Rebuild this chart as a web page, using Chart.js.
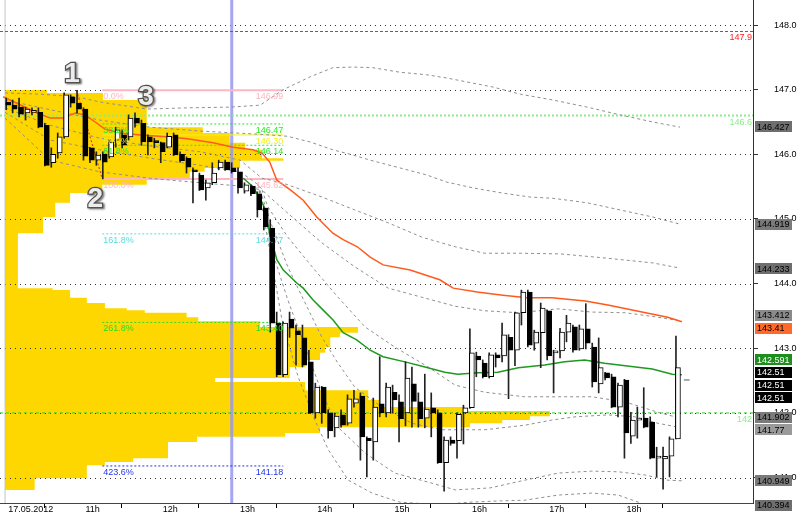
<!DOCTYPE html>
<html>
<head>
<meta charset="utf-8">
<script src="https://cdn.jsdelivr.net/npm/chart.js@4.4.1/dist/chart.umd.min.js"></script>
<style>
  html, body { margin: 0; padding: 0; background: #fff; }
  #wrap { width: 800px; height: 515px; position: relative; }
</style>
</head>
<body>
<div id="wrap"><canvas id="chart"></canvas></div>
<script>
// 5-minute candles, index 0 = 10:00 on 17.05.2012
const open  = [146.81,146.76,146.73,146.64,146.65,146.65,146.45,145.87,146.02,146.27,146.89,146.79,146.70,146.10,145.91,146.00,145.96,146.22,146.30,146.27,
               146.56,146.48,146.27,146.19,146.18,146.11,146.30,146.00,145.94,145.74,145.68,145.48,145.56,145.79,145.88,145.79,145.73,145.43,145.51,145.39,
               145.17,144.86,143.39,142.59,143.45,143.27,143.16,142.79,142.00,142.40,142.00,141.77,141.97,141.84,142.15,142.26,141.61,141.55,142.14,142.00,
               142.32,142.17,142.00,142.45,142.17,141.92,142.08,142.00,141.23,141.58,141.57,142.00,142.08,142.88,142.77,142.56,142.90,142.88,143.17,142.97,
               143.55,143.87,143.08,143.24,143.58,142.93,142.96,143.25,143.33,142.99,143.30,143.02,142.45,142.62,142.56,142.09,142.51,141.64,141.89,141.92,
               141.86,141.30,141.29,141.33,141.60];
const high  = [146.87,146.84,146.87,146.73,146.72,146.72,146.48,146.10,146.33,146.95,146.92,146.99,146.72,146.11,146.04,146.04,146.22,146.42,146.38,146.61,
               146.64,146.53,146.30,146.25,146.19,146.33,146.33,146.04,145.96,145.79,145.71,145.60,145.87,145.91,145.91,145.87,145.79,145.56,145.53,145.42,
               145.19,144.98,143.56,143.41,143.56,143.36,143.36,142.97,142.46,142.41,142.05,142.00,142.05,142.28,142.35,142.31,141.63,142.23,142.87,142.46,
               142.43,142.28,142.79,142.71,142.31,142.60,142.31,142.05,141.63,141.63,142.00,142.12,143.30,142.94,142.82,142.93,142.93,143.39,143.21,143.56,
               143.90,143.90,143.28,143.70,143.59,142.97,143.31,143.51,143.36,143.36,143.69,143.08,143.16,142.63,142.60,142.46,142.52,142.01,142.09,142.39,
               141.94,141.47,141.47,141.63,143.19];
const low   = [146.69,146.64,146.58,146.53,146.61,146.41,145.82,145.80,145.94,146.25,146.73,146.64,145.91,145.87,145.83,145.62,145.94,146.11,146.10,146.22,
               146.42,146.14,145.99,146.10,145.87,146.10,145.98,145.88,145.71,145.25,145.44,145.29,145.53,145.76,145.75,145.71,145.40,145.40,145.36,145.03,
               144.83,143.25,142.56,142.56,143.17,142.74,142.71,141.99,141.92,141.84,141.61,141.63,141.78,141.81,142.09,141.27,141.01,141.27,141.94,141.94,
               142.00,141.55,141.80,141.78,141.78,141.77,141.63,141.22,140.79,141.50,141.30,141.52,142.07,142.56,142.54,142.54,142.71,142.79,142.22,142.73,
               143.36,143.02,142.97,142.70,142.82,142.31,142.85,143.10,142.94,142.97,142.99,142.40,142.31,142.51,142.08,141.94,141.30,141.53,141.61,141.77,
               141.29,141.01,140.82,141.01,141.60];
const close = [146.76,146.70,146.62,146.70,146.66,146.42,145.83,146.00,146.27,146.92,146.79,146.70,145.97,145.91,145.99,145.88,146.19,146.38,146.14,146.56,
               146.48,146.19,146.19,146.18,146.04,146.28,145.99,145.90,145.80,145.73,145.45,145.56,145.71,145.88,145.76,145.73,145.48,145.53,145.39,145.14,
               144.88,143.39,142.59,143.39,143.31,143.21,142.74,142.00,142.40,142.00,141.72,141.95,141.81,142.22,142.22,141.63,141.57,142.09,142.00,142.40,
               142.20,141.91,142.54,142.18,141.91,142.06,142.00,141.23,141.58,141.53,141.98,142.08,142.93,142.82,142.56,142.90,142.85,143.21,142.97,143.55,
               143.87,143.05,143.25,143.62,142.88,142.96,143.25,143.39,142.97,143.30,143.08,142.48,142.70,142.54,142.09,142.43,141.69,141.89,141.92,141.78,
               141.30,141.32,141.33,141.60,142.70];

const hourIdx    = [0, 12, 24, 36, 48, 60, 72, 84, 96];
const hourLabels = ['17.05.2012', '11h', '12h', '13h', '14h', '15h', '16h', '17h', '18h'];
const priceTicks = [141, 142, 143, 144, 145, 146, 147, 148];
const xMin = -0.885, xMax = 116.04, yMin = 140.607, yMax = 148.387;

// volume profile: band edges (price) and how far each band reaches (candle index)
const profEdges = [147.00,146.95,146.84,146.42,146.33,146.18,146.07,145.94,145.90,145.79,145.73,145.63,145.53,145.40,145.25,145.03,144.78,143.93,143.90,143.78,
                   143.70,143.62,143.59,143.55,143.48,143.42,143.33,143.24,143.17,143.02,142.93,142.82,142.71,142.54,142.48,142.35,142.20,142.09,142.03,141.95,
                   141.89,141.84,141.78,141.69,141.63,141.55,141.30,141.24,141.19,140.99,140.81];
const profReach = [6.4,15.1,21.9,30.6,34.8,37.2,39.8,43.1,36.4,30.9,28.6,21.9,15.0,10.0,7.7,5.8,1.9,7.3,10.0,12.6,
                   15.4,18.8,21.6,28.1,29.9,39.5,54.7,51.9,50.4,49.6,48.8,46.5,44.1,32.5,46.5,56.3,58.1,71.3,84.5,81.4,
                   77.1,72.1,48.8,43.4,29.7,25.2,19.8,15.4,12.6,4.5];
const profBase = -0.1;

// moving averages [index, price]
const emaLine = [[-0.4,146.89],[4.9,146.64],[6.9,146.56],[8.9,146.56],[10.8,146.64],[12.3,146.61],[13.9,146.50],[15.4,146.39],[17.8,146.33],[20.9,146.30],
                 [25.1,146.27],[28.2,146.24],[32.2,146.18],[35.3,146.11],[38.4,146.07],[39.8,146.02],[41.0,145.88],[42.1,145.60],[44.2,145.45],[46.2,145.29],
                 [48.3,145.03],[50.8,144.78],[52.4,144.68],[54.6,144.57],[56.6,144.41],[58.6,144.29],[62.8,144.21],[67.4,144.06],[69.5,143.93],[73.2,143.87],
                 [77.2,143.82],[81.0,143.78],[84.8,143.78],[90.0,143.73],[93.5,143.67],[98.8,143.56],[102.8,143.48],[105.0,143.41]];
const vwapLine = [[36.9,145.63],[38.4,145.50],[40.0,145.22],[41.0,144.78],[42.1,144.37],[43.1,144.21],[45.2,144.01],[46.2,143.93],[47.7,143.75],[49.3,143.59],
                  [50.8,143.44],[52.4,143.24],[54.5,143.13],[56.6,142.97],[58.6,142.87],[62.0,142.79],[65.1,142.71],[68.2,142.63],[70.2,142.60],[73.3,142.62],
                  [76.4,142.63],[79.6,142.70],[83.7,142.74],[86.8,142.79],[89.9,142.82],[93.0,142.77],[96.2,142.73],[100.4,142.68],[103.5,142.60],[105.0,142.59]];

// grey dashed bands
const bandU1 = [[-0.1,146.95],[5.3,146.93],[11.1,146.89],[14.6,146.81],[21.9,146.70],[28.6,146.72],[34.8,146.73],[39.5,146.76],[43.1,147.00],[47.3,147.20],
                [50.8,147.34],[53.9,147.35],[57.0,147.34],[61.2,147.27],[65.4,147.23],[68.5,147.18],[71.6,147.12],[75.7,147.04],[79.9,146.93],[85.0,146.84],
                [90.3,146.73],[95.4,146.61],[100.5,146.50],[104.7,146.42]];
const bandU2 = [[-0.1,146.84],[6.9,146.69],[14.6,146.53],[22.4,146.42],[30.2,146.36],[39.5,146.31],[43.7,146.28],[47.3,146.19],[50.8,146.07],[53.9,145.99],
                [56.6,145.91],[61.2,145.79],[65.4,145.68],[68.5,145.57],[72.6,145.48],[77.2,145.40],[81.4,145.34],[85.0,145.32],[90.3,145.25],[95.4,145.14],
                [100.5,145.03],[104.7,144.92]];
const bandU3 = [[-0.1,146.72],[6.9,146.45],[14.6,146.25],[22.4,146.13],[30.2,146.04],[36.4,145.91],[39.8,145.63],[42.9,145.56],[49.1,145.34],[54.2,145.14],
                [59.4,144.94],[64.6,144.72],[69.8,144.57],[74.4,144.47],[79.9,144.47],[86.1,144.46],[92.7,144.40],[100.5,144.32],[104.7,144.24]];
const bandM  = [[-0.1,146.65],[6.9,146.22],[14.6,146.07],[22.4,145.94],[30.2,145.83],[36.4,145.73],[39.2,145.53],[40.3,145.40],[43.8,145.09],[49.1,144.63],
                [54.2,144.26],[59.4,143.93],[64.6,143.79],[69.8,143.65],[74.4,143.58],[79.6,143.55],[85.8,143.61],[91.0,143.56],[96.2,143.55],[101.3,143.48],[105.0,143.42]];
const bandL1 = [[-0.1,146.56],[6.9,145.91],[14.6,145.73],[22.4,145.63],[30.2,145.56],[36.4,145.51],[39.8,145.45],[40.7,145.19],[43.8,144.72],[48.0,144.21],
                [51.6,143.79],[55.8,143.33],[60.4,143.02],[65.6,142.71],[69.8,142.43],[74.4,142.32],[80.6,142.25],[85.8,142.25],[91.0,142.25],[96.2,142.17],
                [101.3,142.01],[104.7,141.92]];
const bandL2 = [[39.2,145.53],[41.4,144.88],[43.8,144.26],[46.5,143.70],[49.1,143.17],[51.6,142.77],[54.2,142.40],[58.4,142.09],[63.1,141.84],[67.7,141.74],
                [74.4,141.74],[80.6,141.81],[84.8,141.89],[88.4,141.94],[93.5,141.97],[97.7,141.94],[101.3,141.84],[104.4,141.78]];
const bandL3 = [[39.2,145.53],[41.8,144.37],[43.8,143.75],[46.5,143.02],[49.1,142.31],[51.6,141.78],[55.8,141.38],[60.4,141.07],[65.6,140.93],[69.8,140.81],
                [75.2,140.84],[80.6,140.96],[85.8,141.07],[91.0,141.10],[95.1,141.09],[99.3,141.04],[102.8,140.96],[105.0,140.95]];
const bandL4 = [[39.2,145.53],[42.9,143.44],[45.4,142.56],[48.0,141.89],[50.1,141.43],[53.2,140.96],[56.9,140.76],[61.2,140.62],[67.4,140.58],[72.1,140.62],
                [76.8,140.64],[80.6,140.65],[85.8,140.73],[91.0,140.76],[95.1,140.73],[98.5,140.61],[105.0,140.39]];

// fibonacci from swing high (1) to swing low (2)
const fibPct   = ['0.0%', '38.2%', '50.0%', '61.8%', '100.0%', '161.8%', '261.8%', '423.6%'];
const fibPrice = [146.99, 146.47, 146.30, 146.14, 145.62, 144.77, 143.40, 141.18];
const fibFrom = 15, fibTo = 43.1;
const fibAnchor = [[11, 146.99], [15, 145.62]];

// horizontal levels
const levelPrice = [147.9, 146.6, 142.0];
const levelText  = ['147.9', '146.6', '142'];

const cursorIdx = 35.1;
const sessionIdx = -0.1;

const markText  = ['1', '2', '3'];
const markIdx   = [10.3, 13.9, 21.8];
const markPrice = [147.24, 145.31, 146.89];

const tagValue = [146.427, 144.919, 144.233, 143.412, 143.41, 142.591, 142.51, 142.51, 142.51, 141.902, 141.77, 140.949, 140.394];
const tagBg = ['#6e6e6e','#7a7a7a','#6e6e6e','#8a8a8a','#ff6a2a','#1e8c1e','#000','#000','#000','#7a7a7a','#9a9a9a','#7a7a7a','#6e6e6e'];
const tagFg = ['#000','#000','#000','#000','#000','#fff','#fff','#fff','#fff','#000','#000','#000','#000'];

const fibColor = ['#ffb6c1','#22ee22','#f0f020','#22ee22','#ffb6c1','#55dddd','#22dd22','#2233ee'];
const fibWidth = [2, 1, 1, 1, 2, 1, 1, 1];
const fibDash  = [[], [2, 2], [], [2, 2], [], [2, 2], [2, 2], [2, 2]];
const levelColor = ['#ff2020', '#88ee88', '#33cc33'];
const levelDash  = [[3, 2], [2, 2], [3, 3]];
const levelWidth = [1, 2, 1];

const FONT = '"Liberation Sans", Arial, sans-serif';

const pts = arr => arr.map(([x, y]) => ({x, y}));
function lineDs(data, color, width, dash, order) {
  return { type: 'line', data: pts(data), borderColor: color, borderWidth: width, borderDash: dash,
           pointRadius: 0, fill: false, tension: 0, order: order, xAxisID: 'x', yAxisID: 'y' };
}

const profilePts = [];
profReach.forEach((r, k) => {
  profilePts.push({x: r, y: profEdges[k]}, {x: r, y: profEdges[k + 1]});
});

const datasets = [];
datasets.push({
  type: 'line', label: 'profile', indexAxis: 'y', data: profilePts,
  xAxisID: 'xp', yAxisID: 'y',
  borderColor: 'rgba(0,0,0,0)', borderWidth: 0, pointRadius: 0, tension: 0,
  backgroundColor: '#ffd700', fill: {value: profBase}, order: 100
});
datasets.push(lineDs([[sessionIdx, yMin - 1], [sessionIdx, yMax + 1]], '#c4c4c4', 1, [], 90));
datasets.push(lineDs([[cursorIdx, yMin - 1], [cursorIdx, yMax + 1]], 'rgba(150,150,240,0.85)', 3, [], 90));
levelPrice.forEach((p, k) => datasets.push(lineDs([[xMin, p], [xMax, p]], levelColor[k], levelWidth[k], levelDash[k], 80)));
fibPrice.forEach((p, k) => datasets.push(lineDs([[fibFrom, p], [fibTo, p]], fibColor[k], fibWidth[k], fibDash[k], 70)));
datasets.push(lineDs(fibAnchor, '#dd2222', 1, [2, 2], 70));
[bandU1, bandU2, bandU3, bandM, bandL1, bandL2, bandL3, bandL4].forEach(b =>
  datasets.push(lineDs(b, '#8f8f8f', 1, [3, 3], 60)));
datasets.push(lineDs(emaLine, '#ff5a1e', 1.5, [], 50));
datasets.push(lineDs(vwapLine, '#1e9a1e', 1.5, [], 50));
datasets.push(lineDs([[105.3, 142.51], [106.2, 142.51]], '#555', 1, [], 50));

datasets.push({
  type: 'bar', label: 'wicks', xAxisID: 'x', yAxisID: 'y', stack: 'c',
  data: low.map((l, i) => ({x: i, y: [l, high[i]]})),
  backgroundColor: '#222', borderWidth: 0, barThickness: 1, order: 5
});
datasets.push({
  type: 'bar', label: 'bodies', xAxisID: 'x', yAxisID: 'y', stack: 'c',
  data: open.map((o, i) => ({x: i, y: [o, close[i]]})),
  backgroundColor: open.map((o, i) => close[i] >= o ? '#fff' : '#000'),
  borderColor: '#000', borderWidth: 1, borderSkipped: false, barThickness: 5, minBarLength: 2, order: 4
});

const overlay = {
  id: 'overlay',
  afterDatasetDraw(chart, args) {
    if (args.meta.controller.getDataset().label !== 'profile') return;
    const {ctx, chartArea: a, scales: {y}} = chart;
    ctx.save();
    ctx.strokeStyle = '#333';
    ctx.lineWidth = 1;
    ctx.setLineDash([1, 4]);
    priceTicks.forEach(p => {
      const py = Math.round(y.getPixelForValue(p)) + 0.5;
      ctx.beginPath(); ctx.moveTo(a.left, py); ctx.lineTo(a.right, py); ctx.stroke();
    });
    ctx.restore();
  },
  afterDraw(chart) {
    const {ctx, chartArea: a, scales: {x, y}} = chart;
    ctx.save();
    ctx.font = '9px ' + FONT;
    ctx.textBaseline = 'top';
    // fib labels
    fibPrice.forEach((p, k) => {
      const py = y.getPixelForValue(p);
      ctx.fillStyle = fibColor[k];
      ctx.textAlign = 'left';
      ctx.fillText(fibPct[k], x.getPixelForValue(fibFrom) + 1, py + 2);
      ctx.textAlign = 'right';
      ctx.fillText(p.toFixed(2), x.getPixelForValue(fibTo), py + 2);
    });
    // level labels
    levelPrice.forEach((p, k) => {
      ctx.fillStyle = k === 0 ? levelColor[k] : '#88ee88';
      ctx.textAlign = 'right';
      ctx.fillText(levelText[k], a.right - 1, y.getPixelForValue(p) + 2);
    });
    // swing marks
    ctx.font = 'bold 28px ' + FONT;
    ctx.textAlign = 'center';
    ctx.textBaseline = 'middle';
    markText.forEach((t, k) => {
      const px = x.getPixelForValue(markIdx[k]), py = y.getPixelForValue(markPrice[k]);
      ctx.shadowColor = 'rgba(0,0,0,0.55)';
      ctx.shadowOffsetX = 1.5; ctx.shadowOffsetY = 1.5; ctx.shadowBlur = 2;
      ctx.lineWidth = 2.5; ctx.strokeStyle = '#505050';
      ctx.strokeText(t, px, py);
      ctx.shadowColor = 'rgba(0,0,0,0)';
      ctx.fillStyle = '#ececec';
      ctx.fillText(t, px, py);
    });
    // price tags on the axis, pushed apart where they collide
    const gap = 12.7, boxH = 11;
    const idx = tagValue.map((v, k) => k).sort((p, q) =>
      (y.getPixelForValue(tagValue[p]) - y.getPixelForValue(tagValue[q])) || (p - q));
    const pos = idx.map(k => y.getPixelForValue(tagValue[k]));
    for (let it = 0; it < 300; it++) {
      for (let j = 0; j < pos.length - 1; j++) {
        const d = pos[j + 1] - pos[j];
        if (d < gap) { const s = (gap - d) / 2; pos[j] -= s; pos[j + 1] += s; }
      }
    }
    for (let j = pos.length - 1; j >= 0; j--) {
      const lim = j === pos.length - 1 ? a.bottom + 2 : pos[j + 1] - gap;
      if (pos[j] > lim) pos[j] = lim;
    }
    ctx.font = '9px ' + FONT;
    ctx.textAlign = 'left';
    ctx.textBaseline = 'middle';
    idx.forEach((k, j) => {
      const cy = pos[j];
      ctx.fillStyle = tagBg[k];
      ctx.fillRect(a.right + 2, Math.round(cy - boxH / 2), 37, boxH);
      ctx.fillStyle = tagFg[k];
      ctx.fillText(String(tagValue[k]), a.right + 4, cy + 0.5);
    });
    ctx.restore();
  }
};

new Chart(document.getElementById('chart'), {
  type: 'line',
  data: { datasets },
  options: {
    responsive: true,
    maintainAspectRatio: false,
    animation: false,
    devicePixelRatio: 1,
    events: [],
    layout: { padding: 0, autoPadding: false },
    plugins: { legend: { display: false }, tooltip: { enabled: false } },
    scales: {
      x: {
        type: 'linear', position: 'bottom', min: xMin, max: xMax, offset: false, stacked: true,
        afterBuildTicks: s => { s.ticks = hourIdx.map(v => ({value: v})); },
        afterFit: s => { s.height = 12; s.paddingLeft = 0; s.paddingRight = 0; s.paddingTop = 0; s.paddingBottom = 0; },
        grid: { drawOnChartArea: false, drawTicks: true, tickLength: 5, color: '#000', tickColor: '#000' },
        border: { display: true, color: '#444' },
        ticks: {
          autoSkip: false, maxRotation: 0, align: 'start', padding: -4, color: '#000',
          font: { size: 9, family: FONT },
          callback: v => ' ' + hourLabels[hourIdx.indexOf(v)]
        }
      },
      xp: { type: 'linear', display: false, min: xMin, max: xMax },
      y: {
        type: 'linear', position: 'right', min: yMin, max: yMax, stacked: false,
        afterBuildTicks: s => { s.ticks = priceTicks.map(v => ({value: v})); },
        afterFit: s => { s.width = 47; s.paddingTop = 0; s.paddingBottom = 0; s.paddingLeft = 0; s.paddingRight = 0; },
        grid: { drawOnChartArea: false, drawTicks: true, tickLength: 5, color: '#333', tickColor: '#333' },
        border: { display: true, color: '#333' },
        ticks: {
          padding: 16, color: '#000',
          font: { size: 9, family: FONT },
          callback: v => v.toFixed(1)
        }
      }
    }
  },
  plugins: [overlay]
});
</script>
</body>
</html>
